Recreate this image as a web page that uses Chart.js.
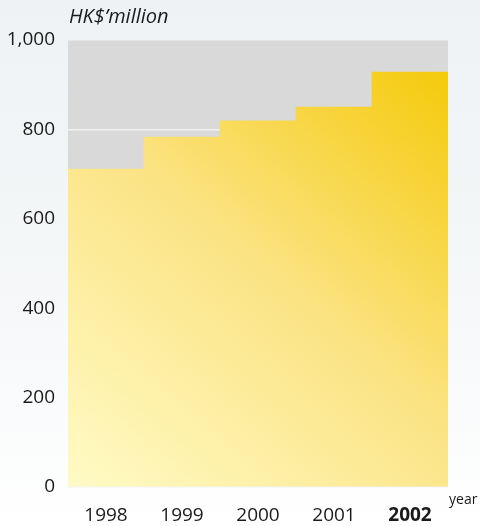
<!DOCTYPE html>
<html>
<head>
<meta charset="utf-8">
<script src="https://cdn.jsdelivr.net/npm/chart.js@4/dist/chart.umd.min.js"></script>
<style>
  html, body { margin: 0; padding: 0; }
  body {
    width: 480px; height: 526px; overflow: hidden;
    background: linear-gradient(to bottom, #eef2f4 0%, #f6f8f9 60%, #ffffff 100%);
  }
  #wrap { position: relative; width: 480px; height: 526px; }
</style>
</head>
<body>
<div id="wrap"><canvas id="myChart"></canvas></div>
<script>
const years = ['1998', '1999', '2000', '2001', '2002'];
const amounts = [711, 783, 819, 850, 928];
const yTicks = [0, 200, 400, 600, 800, 1000];

const FONT = '"Open Sans", "DejaVu Sans", sans-serif';

// grey panel behind the bars, plus the unit and axis captions
const panel = {
  id: 'panel',
  beforeDraw(chart) {
    const { ctx, chartArea: a } = chart;
    ctx.save();
    ctx.fillStyle = '#d9d9d9';
    ctx.fillRect(a.left, a.top, a.right - a.left, a.bottom - a.top);
    ctx.restore();
  },
  afterDraw(chart) {
    const { ctx, chartArea: a } = chart;
    ctx.save();
    ctx.fillStyle = '#1a1a1a';
    ctx.textBaseline = 'middle';
    ctx.font = 'italic 20px ' + FONT;
    ctx.fillText('HK$\u2019million', a.left + 1, 17);
    ctx.font = '14px ' + FONT;
    ctx.fillText('year', a.right + 1, 500);
    ctx.restore();
  }
};

function barFill(context) {
  const a = context.chart.chartArea;
  if (!a) return '#fbe282';
  const g = context.chart.ctx.createLinearGradient(a.left, a.bottom, a.right, a.top);
  g.addColorStop(0, '#fffbc6');
  g.addColorStop(0.5, '#fbe383');
  g.addColorStop(1, '#f4c800');
  return g;
}

const ctx = document.getElementById('myChart');
new Chart(ctx, {
  type: 'bar',
  data: {
    labels: years,
    datasets: [{
      data: amounts,
      backgroundColor: barFill,
      borderWidth: 0,
      barPercentage: 1,
      categoryPercentage: 1
    }]
  },
  options: {
    responsive: true,
    maintainAspectRatio: false,
    animation: false,
    layout: { padding: { top: 40, right: 32, left: 0, bottom: 0 } },
    plugins: { legend: { display: false }, tooltip: { enabled: false } },
    scales: {
      x: {
        grid: { display: false },
        border: { display: false },
        afterFit(axis) { axis.height = 39; },
        ticks: {
          padding: 9,
          color: '#1a1a1a',
          font: (c) => ({ family: FONT, size: 19, weight: c.index === years.length - 1 ? 'bold' : 'normal' })
        }
      },
      y: {
        min: 0,
        max: 1000,
        afterFit(axis) { axis.width = 68; },
        afterBuildTicks(axis) { axis.ticks = yTicks.map(v => ({ value: v })); },
        grid: { color: '#f2f2f2', lineWidth: 1.5, drawTicks: false },
        border: { display: false },
        ticks: {
          padding: 13,
          color: '#1a1a1a',
          font: { family: FONT, size: 19 },
          callback: (v) => v.toLocaleString('en-US')
        }
      }
    }
  },
  plugins: [panel]
});
</script>
</body>
</html>
